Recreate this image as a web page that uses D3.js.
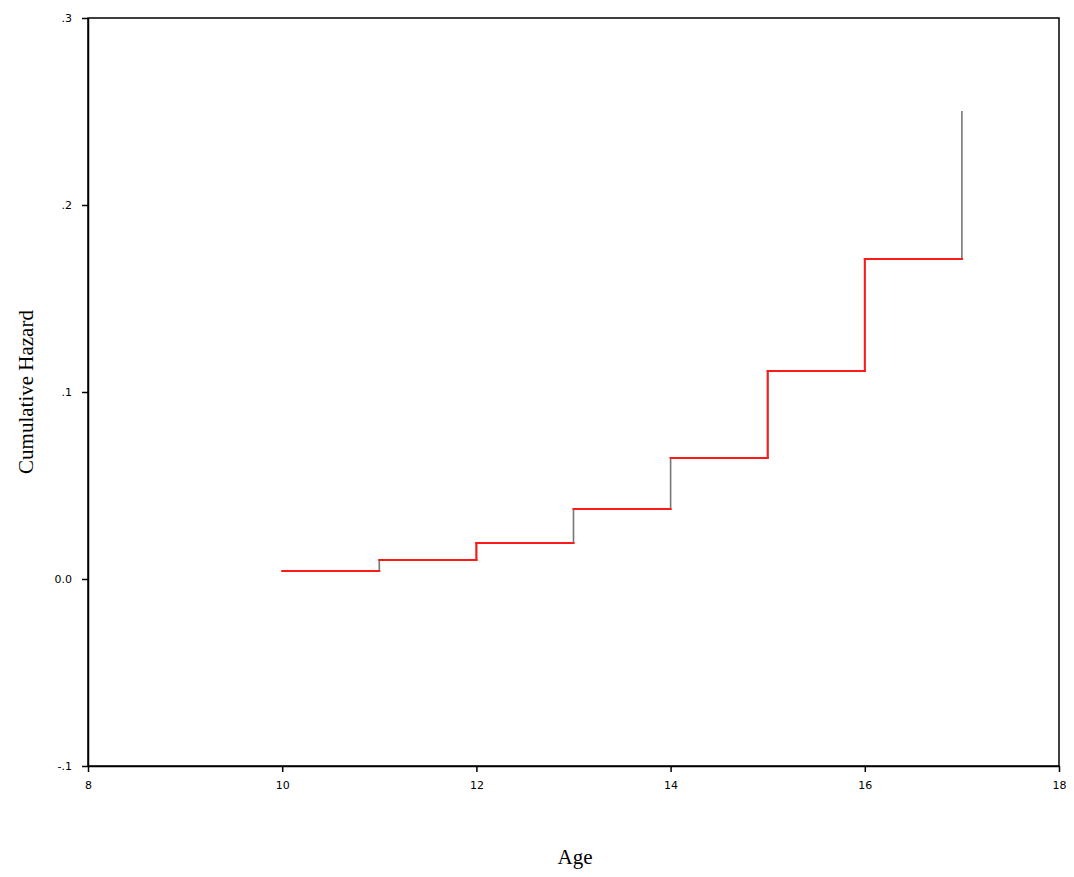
<!DOCTYPE html>
<html><head><meta charset="utf-8">
<script src="https://cdn.jsdelivr.net/npm/d3@7"></script>
<style>body{margin:0;background:#fff}</style>
</head><body>
<svg id="chart" width="1074" height="877"></svg>
<script>
const ages = [10, 11, 12, 13, 14, 15, 16, 17];
const hazard = [0.0043, 0.0102, 0.0193, 0.0374, 0.0647, 0.1112, 0.1711, 0.2503];
const grayJumps = [11, 13, 14, 17];
const xTicks = [8, 10, 12, 14, 16, 18];
const yTicks = [-0.1, 0.0, 0.1, 0.2, 0.3];
const yTickLabels = ["-.1", "0.0", ".1", ".2", ".3"];

const svg = d3.select("#chart");
const L = 88, R = 1059, T = 18, B = 766;
const x = d3.scaleLinear().domain([8, 18]).range([L, R]);
const y = d3.scaleLinear().domain([-0.1, 0.3]).range([B, T]);

// frame
svg.append("rect").attr("x", L).attr("y", T).attr("width", R - L).attr("height", B - T)
  .attr("fill", "none").attr("stroke", "#000").attr("stroke-width", 1.5);

const xAxis = svg.append("g").attr("transform", `translate(0,${B})`)
  .call(d3.axisBottom(x).tickValues(xTicks).tickSize(6).tickSizeOuter(0).tickFormat(d3.format("d")));
const yAxis = svg.append("g").attr("transform", `translate(${L},0)`)
  .call(d3.axisLeft(y).tickValues(yTicks).tickSize(6).tickSizeOuter(0).tickFormat((d, i) => yTickLabels[i]));
[xAxis, yAxis].forEach(g => {
  g.select(".domain").attr("stroke", "#000").attr("stroke-width", 1.5);
  g.selectAll(".tick line").attr("stroke", "#000").attr("stroke-width", 1.5);
  g.selectAll(".tick text").attr("fill", "#000").style("font-family", "DejaVu Sans, sans-serif").style("font-size", "11px");
});
xAxis.selectAll(".tick text").attr("dy", "1.25em");
yAxis.selectAll(".tick text").attr("x", -16);

// step data
const pts = [];
ages.forEach((a, i) => {
  if (i < ages.length - 1) {
    pts.push([a, hazard[i]]);
    pts.push([ages[i + 1], hazard[i]]);
  }
});
// gray underlying full step (with final jump)
const grayPts = pts.concat([[ages[ages.length - 1], hazard[hazard.length - 1]]]);
const line = d3.line().x(d => x(d[0])).y(d => y(d[1]));
svg.append("path").attr("d", line(grayPts)).attr("fill", "none")
  .attr("stroke", "#777").attr("stroke-width", 1.6);
// red step (horizontal segments + jumps except gray ones)
const redSegs = [];
ages.forEach((a, i) => {
  if (i < ages.length - 1) redSegs.push([[a, hazard[i]], [ages[i + 1], hazard[i]]]);
  if (i > 0 && !grayJumps.includes(a)) redSegs.push([[a, hazard[i - 1]], [a, hazard[i]]]);
});
svg.append("g").selectAll("path").data(redSegs).join("path")
  .attr("d", d => line(d)).attr("fill", "none")
  .attr("stroke", "#ff1a1a").attr("stroke-width", 2).attr("stroke-linecap", "square");

// titles
svg.append("text").attr("x", 575).attr("y", 864).attr("text-anchor", "middle")
  .style("font-family", "Liberation Serif, Times New Roman, serif").style("font-size", "21px").text("Age");
svg.append("text").attr("transform", `translate(33,392) rotate(-90)`).attr("text-anchor", "middle")
  .style("font-family", "Liberation Serif, Times New Roman, serif").style("font-size", "21px").text("Cumulative Hazard");
</script>
</body></html>
